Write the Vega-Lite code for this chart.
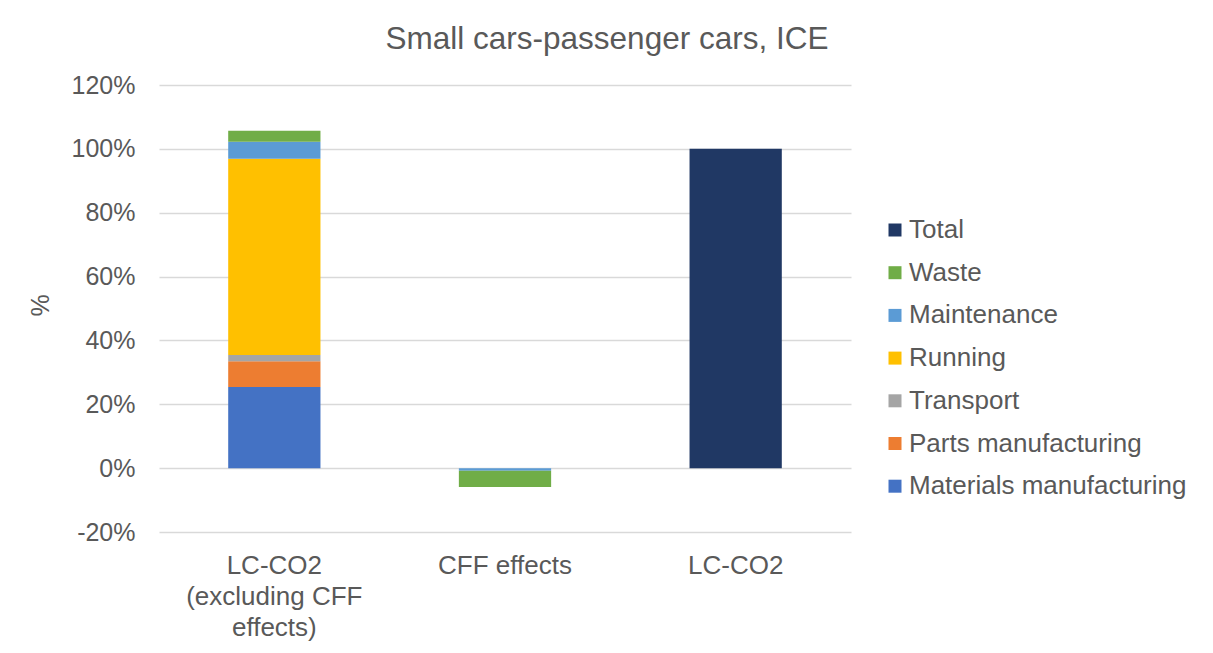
{
  "$schema": "https://vega.github.io/schema/vega-lite/v6.json",
  "width": 692,
  "height": 447,
  "autosize": "none",
  "padding": {"left": 159, "top": 85, "right": 362, "bottom": 121},
  "background": "white",
  "title": {
    "text": "Small cars-passenger cars, ICE",
    "fontSize": 31.5,
    "fontWeight": "normal",
    "color": "#595959",
    "font": "Liberation Sans",
    "anchor": "middle",
    "frame": "group",
    "dx": 102,
    "offset": 18
  },
  "data": {
    "values": [
      {"category": "LC-CO2 (excluding CFF effects)", "component": "Materials manufacturing", "idx": 1, "value": 0.254},
      {"category": "LC-CO2 (excluding CFF effects)", "component": "Parts manufacturing", "idx": 2, "value": 0.081},
      {"category": "LC-CO2 (excluding CFF effects)", "component": "Transport", "idx": 3, "value": 0.019},
      {"category": "LC-CO2 (excluding CFF effects)", "component": "Running", "idx": 4, "value": 0.615},
      {"category": "LC-CO2 (excluding CFF effects)", "component": "Maintenance", "idx": 5, "value": 0.053},
      {"category": "LC-CO2 (excluding CFF effects)", "component": "Waste", "idx": 6, "value": 0.035},
      {"category": "CFF effects", "component": "Maintenance", "idx": 5, "value": -0.008},
      {"category": "CFF effects", "component": "Waste", "idx": 6, "value": -0.051},
      {"category": "LC-CO2", "component": "Total", "idx": 7, "value": 1.0}
    ]
  },
  "mark": {"type": "bar"},
  "encoding": {
    "x": {
      "field": "category",
      "type": "nominal",
      "sort": ["LC-CO2 (excluding CFF effects)", "CFF effects", "LC-CO2"],
      "scale": {"paddingInner": 0.6, "paddingOuter": 0.3},
      "axis": {
        "title": null,
        "labelAngle": 0,
        "labelFontSize": 26,
        "labelColor": "#595959",
        "labelFont": "Liberation Sans",
        "labelLineHeight": 31,
        "labelPadding": 20,
        "labelBaseline": "top",
        "labelLimit": 300,
        "ticks": false,
        "domain": false,
        "labelExpr": "datum.label == 'LC-CO2 (excluding CFF effects)' ? ['LC-CO2', '(excluding CFF', 'effects)'] : datum.label"
      }
    },
    "y": {
      "field": "value",
      "type": "quantitative",
      "stack": "zero",
      "scale": {"domain": [-0.2, 1.2], "nice": false},
      "axis": {
        "title": "%",
        "titleFontSize": 25,
        "titleFontWeight": "normal",
        "titleColor": "#595959",
        "titleFont": "Liberation Sans",
        "titleX": -106,
        "titleY": 220,
        "titleAngle": -90,
        "values": [-0.2, 0, 0.2, 0.4, 0.6, 0.8, 1.0, 1.2],
        "format": ".0%",
        "labelExpr": "replace(datum.label, '\u2212', '-')",
        "labelFontSize": 25,
        "labelColor": "#595959",
        "labelFont": "Liberation Sans",
        "labelPadding": 24,
        "ticks": false,
        "domain": false,
        "grid": true,
        "gridColor": "#d9d9d9",
        "gridWidth": 1.3
      }
    },
    "color": {
      "field": "component",
      "type": "nominal",
      "scale": {
        "domain": ["Total", "Waste", "Maintenance", "Running", "Transport", "Parts manufacturing", "Materials manufacturing"],
        "range": ["#203864", "#70AD47", "#5B9BD5", "#FFC000", "#A5A5A5", "#ED7D31", "#4472C4"]
      },
      "legend": {
        "title": null,
        "orient": "none",
        "legendX": 723,
        "legendY": 132,
        "symbolType": "square",
        "symbolSize": 169,
        "symbolStrokeWidth": 0,
        "labelFontSize": 26,
        "labelColor": "#595959",
        "labelFont": "Liberation Sans",
        "labelOffset": 1,
        "labelLimit": 400,
        "rowPadding": 16.7
      }
    },
    "order": {"field": "idx", "type": "quantitative", "sort": "ascending"}
  },
  "config": {
    "view": {"stroke": null}
  }
}
